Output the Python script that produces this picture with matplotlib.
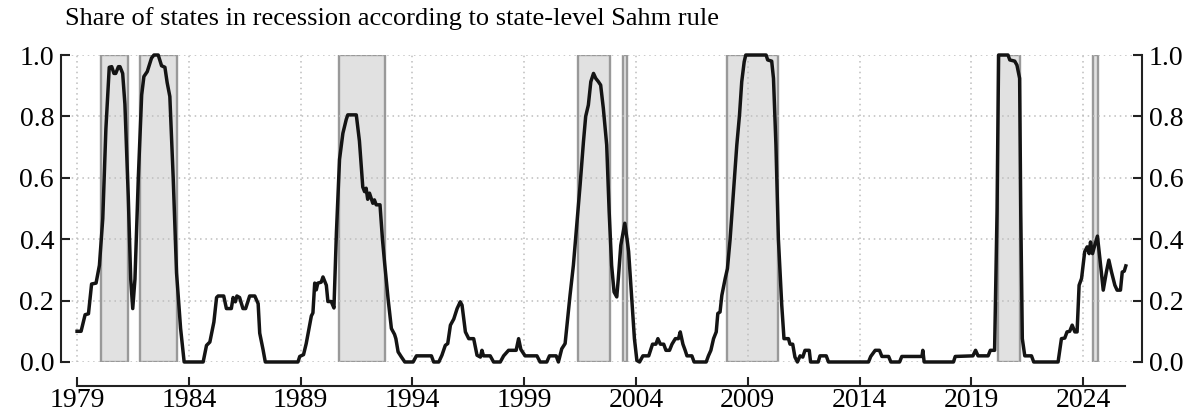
import matplotlib
matplotlib.use("Agg")
import matplotlib.pyplot as plt
from matplotlib.patches import Rectangle

plt.rcParams['font.family'] = ['Liberation Serif', 'DejaVu Serif']

title = "Share of states in recession according to state-level Sahm rule"

# recession periods (fractional years)
rec_start = [1980.06, 1981.80, 1990.71, 2001.40, 2003.42, 2008.05, 2020.18, 2024.45]
rec_end   = [1981.28, 1983.45, 1992.77, 2002.83, 2003.59, 2010.33, 2021.19, 2024.66]

# share of states in recession
dates = [
    1979.00, 1979.18, 1979.36, 1979.51, 1979.65, 1979.85, 1980.00, 1980.15, 1980.29, 1980.44,
    1980.55, 1980.65, 1980.73, 1980.85, 1980.92, 1981.04, 1981.14, 1981.29, 1981.40, 1981.49,
    1981.59, 1981.74, 1981.89, 1981.99, 1982.14, 1982.33, 1982.44, 1982.63, 1982.78, 1982.93,
    1983.03, 1983.15, 1983.30, 1983.45, 1983.63, 1983.79, 1984.64, 1984.79, 1984.94, 1985.12,
    1985.24, 1985.31, 1985.56, 1985.68, 1985.90, 1985.98, 1986.08, 1986.15, 1986.27, 1986.42,
    1986.54, 1986.72, 1986.95, 1987.10, 1987.17, 1987.32, 1987.42, 1988.88, 1988.96, 1989.13,
    1989.25, 1989.48, 1989.55, 1989.63, 1989.70, 1989.77, 1989.92, 1990.00, 1990.15, 1990.22,
    1990.37, 1990.49, 1990.60, 1990.74, 1990.89, 1991.04, 1991.11, 1991.49, 1991.63, 1991.78,
    1991.86, 1991.93, 1992.00, 1992.08, 1992.23, 1992.30, 1992.38, 1992.55, 1992.66, 1992.76,
    1992.91, 1993.06, 1993.20, 1993.26, 1993.36, 1993.51, 1993.66, 1994.03, 1994.18, 1994.85,
    1994.95, 1995.18, 1995.32, 1995.47, 1995.58, 1995.70, 1995.85, 1996.00, 1996.14, 1996.22,
    1996.37, 1996.52, 1996.74, 1996.89, 1997.04, 1997.11, 1997.18, 1997.48, 1997.63, 1997.93,
    1998.08, 1998.30, 1998.64, 1998.75, 1998.85, 1999.04, 1999.57, 1999.71, 2000.01, 2000.13,
    2000.43, 2000.53, 2000.68, 2000.83, 2000.93, 2001.05, 2001.20, 2001.35, 2001.50, 2001.65,
    2001.75, 2001.87, 2001.98, 2002.10, 2002.20, 2002.32, 2002.42, 2002.54, 2002.69, 2002.80,
    2002.91, 2003.02, 2003.14, 2003.21, 2003.32, 2003.50, 2003.60, 2003.67, 2003.82, 2003.93,
    2004.04, 2004.16, 2004.31, 2004.57, 2004.74, 2004.89, 2004.98, 2005.09, 2005.24, 2005.34,
    2005.50, 2005.61, 2005.76, 2005.90, 2005.98, 2006.10, 2006.20, 2006.28, 2006.50, 2006.60,
    2007.14, 2007.24, 2007.35, 2007.47, 2007.59, 2007.66, 2007.76, 2007.84, 2007.99, 2008.09,
    2008.21, 2008.36, 2008.51, 2008.63, 2008.73, 2008.84, 2008.91, 2009.82, 2009.89, 2010.07,
    2010.15, 2010.26, 2010.37, 2010.52, 2010.62, 2010.82, 2010.89, 2011.01, 2011.11, 2011.22,
    2011.34, 2011.46, 2011.56, 2011.75, 2011.81, 2012.15, 2012.23, 2012.51, 2012.61, 2014.40,
    2014.50, 2014.70, 2014.89, 2015.00, 2015.30, 2015.40, 2015.79, 2015.89, 2016.79, 2016.83,
    2016.89, 2018.20, 2018.28, 2019.07, 2019.19, 2019.30, 2019.75, 2019.85, 2020.04, 2020.15,
    2020.22, 2020.64, 2020.72, 2020.94, 2021.04, 2021.16, 2021.21, 2021.28, 2021.39, 2021.69,
    2021.79, 2022.88, 2023.03, 2023.18, 2023.28, 2023.40, 2023.51, 2023.63, 2023.73, 2023.82,
    2023.93, 2024.07, 2024.18, 2024.27, 2024.33, 2024.42, 2024.52, 2024.64, 2024.75, 2024.90,
    2025.04, 2025.15, 2025.27, 2025.42, 2025.52, 2025.67, 2025.75, 2025.84, 2025.91,
]
share = [
    0.100, 0.100, 0.154, 0.157, 0.254, 0.257, 0.315, 0.467, 0.760, 0.960,
    0.962, 0.940, 0.940, 0.962, 0.962, 0.940, 0.840, 0.540, 0.270, 0.174,
    0.270, 0.600, 0.870, 0.930, 0.946, 0.990, 1.000, 1.000, 0.965, 0.960,
    0.910, 0.865, 0.600, 0.290, 0.110, 0.000, 0.000, 0.054, 0.065, 0.130,
    0.210, 0.215, 0.215, 0.174, 0.174, 0.210, 0.196, 0.215, 0.210, 0.174,
    0.174, 0.215, 0.215, 0.190, 0.094, 0.040, 0.000, 0.000, 0.018, 0.024,
    0.060, 0.150, 0.160, 0.257, 0.235, 0.257, 0.260, 0.277, 0.250, 0.197,
    0.197, 0.176, 0.420, 0.660, 0.745, 0.790, 0.805, 0.805, 0.720, 0.570,
    0.555, 0.566, 0.530, 0.550, 0.517, 0.528, 0.512, 0.512, 0.400, 0.320,
    0.207, 0.109, 0.090, 0.076, 0.033, 0.016, 0.000, 0.000, 0.020, 0.020,
    0.000, 0.000, 0.022, 0.054, 0.060, 0.120, 0.140, 0.174, 0.196, 0.185,
    0.098, 0.076, 0.076, 0.022, 0.016, 0.038, 0.020, 0.020, 0.000, 0.000,
    0.020, 0.038, 0.038, 0.076, 0.041, 0.020, 0.020, 0.000, 0.000, 0.020,
    0.020, 0.000, 0.043, 0.060, 0.130, 0.217, 0.315, 0.446, 0.576, 0.717,
    0.800, 0.837, 0.913, 0.940, 0.924, 0.913, 0.902, 0.826, 0.707, 0.490,
    0.315, 0.228, 0.212, 0.272, 0.380, 0.452, 0.400, 0.360, 0.196, 0.076,
    0.005, 0.000, 0.020, 0.020, 0.058, 0.058, 0.076, 0.058, 0.058, 0.038,
    0.038, 0.058, 0.076, 0.076, 0.098, 0.058, 0.038, 0.020, 0.020, 0.000,
    0.000, 0.020, 0.038, 0.076, 0.098, 0.158, 0.163, 0.217, 0.272, 0.304,
    0.400, 0.554, 0.707, 0.804, 0.913, 0.978, 1.000, 1.000, 0.984, 0.980,
    0.924, 0.707, 0.400, 0.185, 0.076, 0.076, 0.058, 0.058, 0.016, 0.000,
    0.020, 0.016, 0.038, 0.038, 0.000, 0.000, 0.020, 0.020, 0.000, 0.000,
    0.018, 0.038, 0.038, 0.018, 0.018, 0.000, 0.000, 0.018, 0.018, 0.038,
    0.000, 0.000, 0.018, 0.020, 0.038, 0.020, 0.020, 0.038, 0.038, 0.490,
    1.000, 1.000, 0.984, 0.980, 0.967, 0.924, 0.490, 0.076, 0.020, 0.020,
    0.000, 0.000, 0.076, 0.078, 0.098, 0.100, 0.120, 0.098, 0.098, 0.250,
    0.272, 0.359, 0.375, 0.353, 0.391, 0.353, 0.380, 0.410, 0.337, 0.234,
    0.293, 0.332, 0.293, 0.250, 0.234, 0.234, 0.293, 0.296, 0.313,
]

year_ticks = list(range(1979, 2025, 5))
share_ticks = [0.0, 0.2, 0.4, 0.6, 0.8, 1.0]

fig = plt.figure(figsize=(12, 4.18), dpi=100)
ax = fig.add_axes([0.0508, 0.134, 0.9008, 0.7344])

for s, e in zip(rec_start, rec_end):
    ax.add_patch(Rectangle((s, 0), e - s, 1, facecolor='#e1e1e1',
                           edgecolor='#999999', linewidth=1.7, zorder=1))

ax.plot(dates, share, color='#141414', linewidth=2.5, zorder=3, clip_on=False)

ax.set_xlim(1978.28, 2026.63)
ax.set_ylim(0, 1)
ax.set_xticks(year_ticks)
ax.set_yticks(share_ticks)
ax.set_yticklabels([f"{v:.1f}" for v in share_ticks])

ax.grid(True, linestyle=(0, (1, 2.5)), color='#bdbdbd', linewidth=1.1)

ax.spines['top'].set_visible(False)
ax.spines['bottom'].set_position(('outward', 17))
ax.spines['bottom'].set_bounds(1979, 2025.87)
ax.spines['left'].set_bounds(0, 1)
ax.spines['right'].set_bounds(0, 1)
for sp in ['bottom', 'left', 'right']:
    ax.spines[sp].set_linewidth(1.5)
    ax.spines[sp].set_color('#222222')

ax.tick_params(axis='both', direction='in', length=6.5, width=1.5,
               color='#222222', labelsize=20)
ax.tick_params(axis='y', left=True, right=True, labelleft=True, labelright=True)
ax.tick_params(axis='y', which='major', pad=5)
ax.tick_params(axis='x', pad=2)

fig.text(65 / 1200, 1 - 25 / 418, title, fontsize=19, ha='left', va='baseline')

fig.savefig('out.png', dpi=100)
